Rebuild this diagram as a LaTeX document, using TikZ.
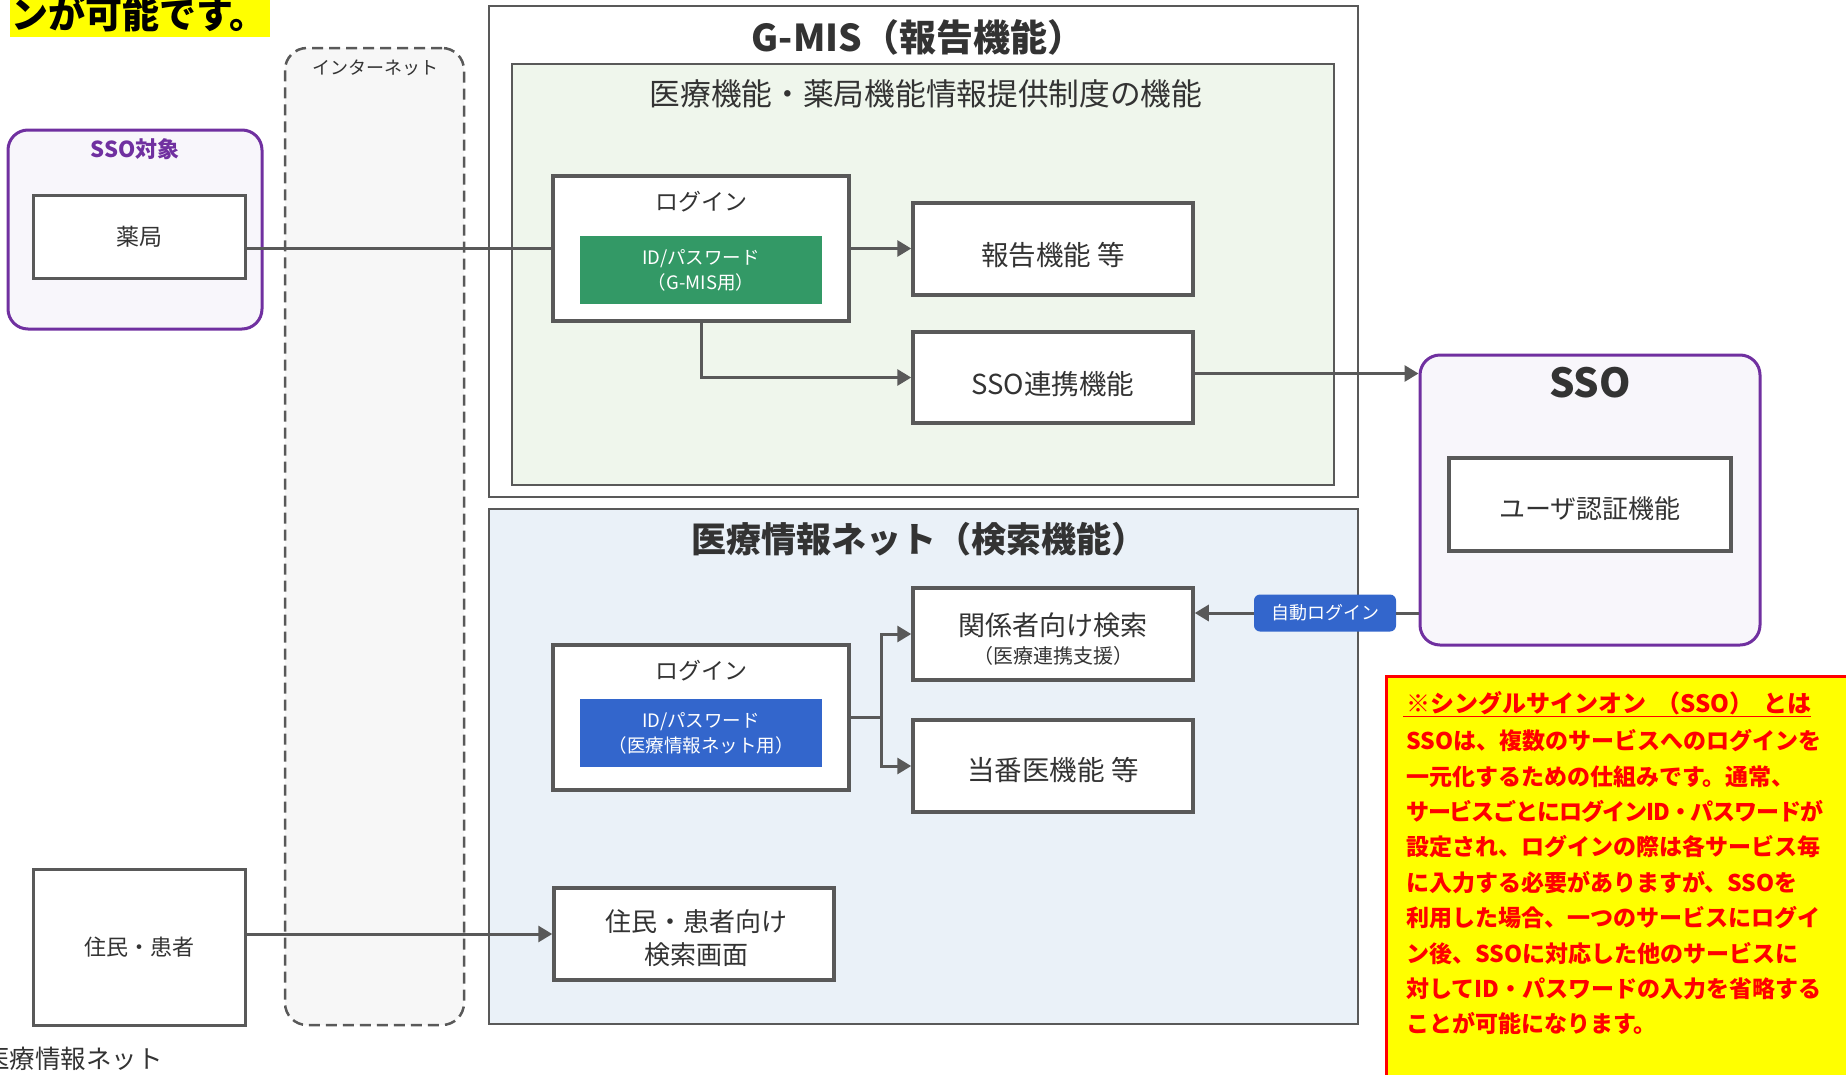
\documentclass[tikz,border=0pt]{standalone}
\usepackage{fontspec}
\setmainfont{Noto Sans CJK JP}
\usetikzlibrary{arrows.meta}
\definecolor{gline}{RGB}{89,89,89}
\definecolor{tcol}{RGB}{51,51,51}
\definecolor{greenbg}{RGB}{239,246,236}
\definecolor{bluebg}{RGB}{234,241,248}
\definecolor{netbg}{RGB}{247,247,247}
\definecolor{ssobg}{RGB}{248,246,251}
\definecolor{ssopurple}{RGB}{112,48,160}
\definecolor{idgreen}{RGB}{51,153,102}
\definecolor{idblue}{RGB}{51,102,204}
\definecolor{notered}{RGB}{255,0,0}
\definecolor{noteyellow}{RGB}{255,255,0}
\newcommand\fz[1]{\fontsize{#1pt}{#1pt}\selectfont}
\tikzset{
 wbox/.style={draw=gline, line width=3.5pt, fill=white, text=tcol, inner sep=0pt, align=center},
 obox/.style={draw=gline, line width=2.5pt, inner sep=0pt},
 pbox/.style={draw=ssopurple, line width=3pt, fill=ssobg, rounded corners=20pt, inner sep=0pt},
 arr/.style={draw=gline, line width=3pt, -{Triangle[length=14pt,width=16pt]}},
 conn/.style={draw=gline, line width=3pt},
 lbl/.style={text=tcol, inner sep=0pt},
 idbox/.style={text=white, inner sep=0pt, align=center, minimum width=242pt, minimum height=68pt, font={\fontsize{18.5pt}{25pt}\selectfont}},
 notetxt/.style={text=notered, font={\bfseries\fz{23}}, inner sep=0pt, anchor=base west},
}
\begin{document}
\begin{tikzpicture}[x=1pt,y=-1pt]
\useasboundingbox (0,0) rectangle (1846,1074);
\clip (0,0) rectangle (1846,1074);

% banner
\node[fill=noteyellow, minimum width=260pt, minimum height=37pt, anchor=north west, inner sep=0pt] (banner) at (10,0) {};
\node[anchor=base west, font={\bfseries\fz{37}}, inner sep=0pt, text=black] (bannert) at (11,28) {ンが可能です。};

% internet
\node[draw=gline, dash pattern=on 11pt off 6pt, line width=2.5pt, rounded corners=22pt, fill=netbg, minimum width=179pt, minimum height=977pt, inner sep=0pt] (internet) at (374.5,536.5) {};
\node[lbl, font=\fz{18}] (internetlbl) at (375,68) {インターネット};

% SSO target
\node[pbox, minimum width=254pt, minimum height=199pt] (ssotgt) at (135,229.5) {};
\node[inner sep=0pt, font={\bfseries\fz{22}}, text=ssopurple] (ssotgtlbl) at (135,149) {SSO対象};
\node[wbox, line width=3pt, minimum width=212pt, minimum height=83pt, font=\fz{23}] (yakkyoku) at (139,236.5) {薬局};

% G-MIS
\node[obox, fill=white, minimum width=869pt, minimum height=491pt] (gmis) at (923.5,251.5) {};
\node[lbl, font={\bfseries\fz{37}}] (gmist) at (918,37) {G-MIS（報告機能）};
\node[obox, fill=greenbg, minimum width=822pt, minimum height=421pt] (green) at (923,274.5) {};
\node[lbl, font=\fz{30.7}] (greent) at (926,94) {医療機能・薬局機能情報提供制度の機能};
\node[wbox, minimum width=296pt, minimum height=145pt] (login1) at (701,248.5) {};
\node[lbl, font=\fz{23}] (login1t) at (701,202) {ログイン};
\node[idbox, fill=idgreen] (id1) at (701,270) {ID/パスワード\\（G-MIS用）};
\node[wbox, minimum width=280pt, minimum height=92pt, font=\fz{27.5}, text height=33pt, text depth=0pt] (houkoku) at (1053,249) {報告機能 等};
\node[wbox, minimum width=280pt, minimum height=91pt, font=\fz{27.5}, text height=33pt, text depth=0pt] (ssorenkei) at (1053,377.5) {SSO連携機能};

% SSO
\node[pbox, minimum width=340pt, minimum height=290pt] (sso) at (1590,500) {};
\node[lbl, font={\bfseries\fz{40}}] (ssot) at (1590,383) {SSO};
\node[wbox, minimum width=282pt, minimum height=93pt, font=\fz{26}, text height=27pt, text depth=0pt] (userauth) at (1590,504.5) {ユーザ認証機能};

% Iryo net
\node[obox, fill=bluebg, minimum width=869pt, minimum height=515pt] (iryonet) at (923.5,766.5) {};
\node[lbl, font={\bfseries\fz{35}}] (iryonett) at (919,539) {医療情報ネット（検索機能）};
\node[wbox, minimum width=296pt, minimum height=145pt] (login2) at (701,717.5) {};
\node[lbl, font=\fz{23}] (login2t) at (701,671) {ログイン};
\node[idbox, fill=idblue] (id2) at (701,733) {ID/パスワード\\（医療情報ネット用）};
\node[wbox, minimum width=280pt, minimum height=92pt] (kankei) at (1053,634) {};
\node[lbl, font=\fz{27}] (kankeit1) at (1053,625) {関係者向け検索};
\node[lbl, font=\fz{20}] (kankeit2) at (1053,656) {（医療連携支援）};
\node[wbox, minimum width=280pt, minimum height=92pt, font=\fz{27.5}, text height=29pt, text depth=0pt] (touban) at (1053,766) {当番医機能 等};
\node[wbox, minimum width=280pt, minimum height=92pt] (kensaku) at (694,934) {};
\node[lbl, font=\fz{26}] (kensakut1) at (696,922) {住民・患者向け};
\node[lbl, font=\fz{26}] (kensakut2) at (696,955) {検索画面};

% left bottom
\node[wbox, line width=3pt, minimum width=212pt, minimum height=156pt, font=\fz{22}] (jumin) at (139,947) {住民・患者};
\node[lbl, anchor=east, font=\fz{25.5}] (iryonetbottom) at (163,1059) {医療情報ネット};

% auto login
\node[fill=idblue, text=white, rounded corners=6pt, minimum width=142pt, minimum height=37pt, inner sep=0pt, font=\fz{18}] (autologin) at (1325,613) {自動ログイン};

% note
\node[draw=notered, line width=3.5pt, fill=noteyellow, minimum width=520pt, minimum height=440pt, anchor=north west, inner sep=0pt] (note) at (1384.5,674.5) {};
\node[notetxt, font={\bfseries\fz{24}}] (notetitle) at (1406,712) {※シングルサインオン\kern10pt（SSO）\kern10pt とは};
\draw[notered, line width=1.5pt] ([yshift=-4.5pt,xshift=-3pt]notetitle.base west) -- ([yshift=-4.5pt]notetitle.base east);
\foreach \t [count=\i from 1] in {SSOは、複数のサービスへのログインを, 一元化するための仕組みです。通常、, {\addfontfeature{LetterSpace=-5}サービスごとにログインID・パスワードが}, 設定され、ログインの際は各サービス毎, に入力する必要がありますが、SSOを, 利用した場合、一つのサービスにログイ, ン後、SSOに対応した他のサービスに, 対してID・パスワードの入力を省略する, ことが可能になります。} {
  \node[notetxt] (note\i) at (1406,{749.7+35.4*(\i-1)}) {\t};
}

% connectors
\draw[conn] (yakkyoku.east |- login1.west) -- (login1.west);
\draw[arr] (login1.east) -- (login1.east -| houkoku.west);
\draw[arr] (login1.south) |- (ssorenkei.west);
\draw[arr] ([yshift=4pt]ssorenkei.east) -- ([yshift=4pt]ssorenkei.east -| sso.west);
\draw[arr] (login2.east) -- ++(31,0) |- (kankei.west);
\draw[arr] (login2.east) -- ++(31,0) |- (touban.west);
\draw[conn] (sso.west |- autologin.east) -- (autologin.east);
\draw[arr] (autologin.west) -- (autologin.west -| kankei.east);
\draw[arr] (jumin.east |- kensaku.west) -- (kensaku.west);
\end{tikzpicture}
\end{document}
